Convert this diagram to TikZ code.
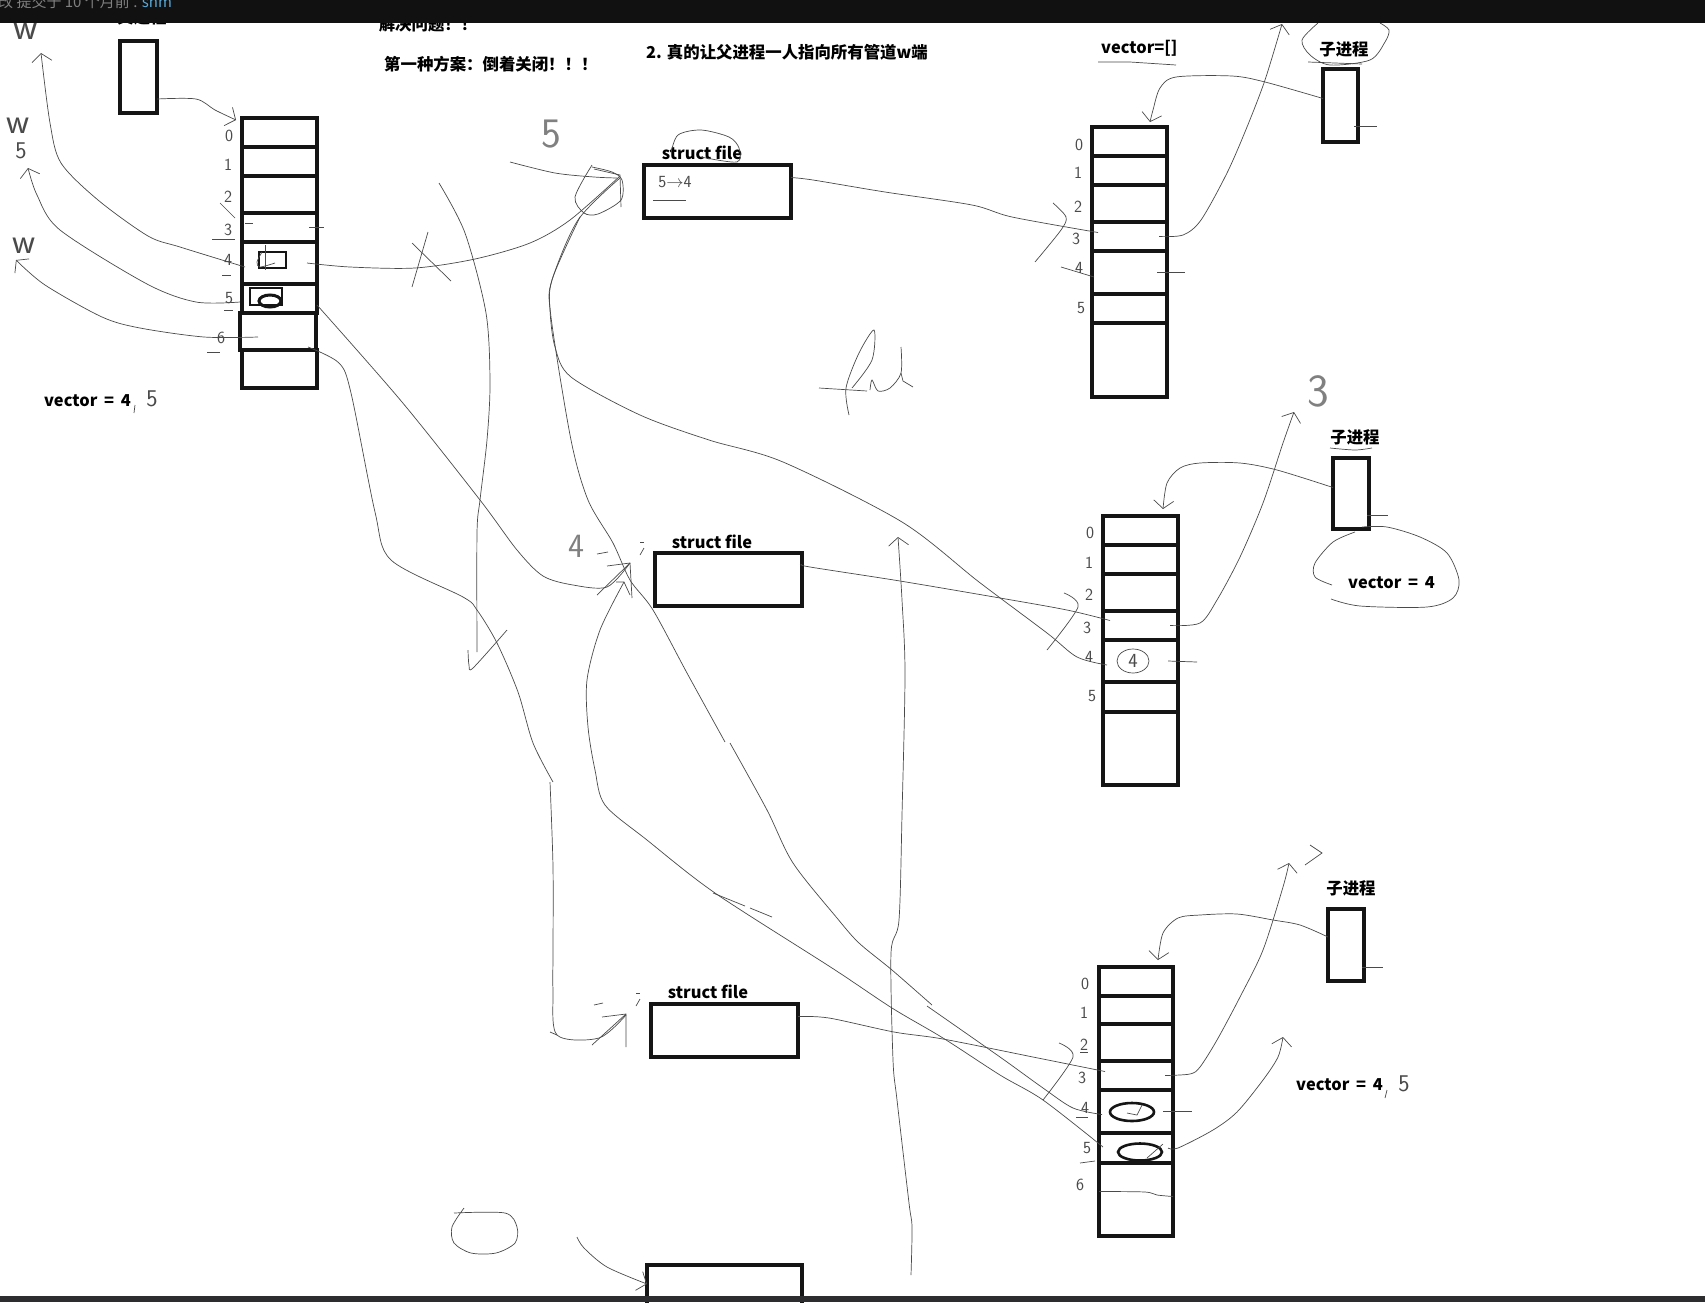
\documentclass[tikz,border=0pt]{standalone}
\usepackage{fontspec}
\setmainfont{Noto Sans CJK SC}
\usetikzlibrary{arrows.meta, shapes.geometric}
\definecolor{inkgray}{HTML}{4A4A4A}
\definecolor{barblack}{HTML}{111111}
\definecolor{bardark}{HTML}{2D2D30}
\definecolor{cellblack}{HTML}{151515}
\definecolor{shmblue}{HTML}{5AA9D6}

\newcommand{\cellbox}[5]{\node[cell, minimum width={(#3-#2)*1pt}, minimum height={(#5-#4)*1pt}] (#1) at ({(#2+#3)/2},{(#4+#5)/2}) {};}

\tikzset{
  cell/.style={rectangle, draw=cellblack, line width=3.2pt, inner sep=0pt, outer sep=0pt},
  marker/.style={draw=cellblack, line width=2.6pt, inner sep=0pt, outer sep=0pt},
  lbl/.style={inner sep=0pt, text=black, font=\bfseries\fontsize{16.4}{18}\selectfont},
  hand/.style={inner sep=0pt, text=inkgray, font=\sffamily\fontsize{#1}{#1}\selectfont},
  ink/.style={draw=inkgray, line width=.7pt, smooth, tension=.5},
  penarrow/.style={-{Straight Barb[length=8pt,width=20pt]}}
}

\begin{document}
\begin{tikzpicture}[x=1pt, y=-1pt]
  \clip (0,0) rectangle (1705,1302);
  \fill[white] (0,0) rectangle (1705,1302);

  % parent side
  \cellbox{parent}{120}{157}{41}{113}
  \foreach \n/\t/\b in {0/118/147, 1/147/176, 2/176/213, 3/213/242, 4/242/284, 5/284/313, 7/350/388}
    {\cellbox{pa\n}{242}{317}{\t}{\b}}
  \cellbox{pa6}{240}{316}{313}{350}
  \node[marker, rectangle, minimum width=27pt, minimum height=16pt] (pamarkA) at (272.5,260) {};
  \node[marker, rectangle, minimum width=32pt, minimum height=17pt] (pamarkB) at (266,296.5) {};
  \node[marker, ellipse, line width=3pt, minimum width=22pt, minimum height=12pt] (pamarkC) at (270,301) {};

  % struct file boxes
  \cellbox{fileA}{644}{791}{165}{218}
  \cellbox{fileB}{655}{802}{553}{606}
  \cellbox{fileC}{651}{798}{1004}{1057}
  \cellbox{fileD}{647}{802}{1265}{1330}

  % child tables
  \cellbox{childA}{1323}{1358}{69}{142}
  \foreach \n/\t/\b in {0/127/156, 1/156/185, 2/185/222, 3/222/251, 4/251/294, 5/294/323, 6/323/397}
    {\cellbox{ca\n}{1092}{1167}{\t}{\b}}
  \cellbox{childB}{1333}{1369}{458}{529}
  \foreach \n/\t/\b in {0/516/545, 1/545/574, 2/574/611, 3/611/640, 4/640/682, 5/682/712, 6/712/785}
    {\cellbox{cb\n}{1103}{1178}{\t}{\b}}
  \cellbox{childC}{1328}{1364}{909}{981}
  \foreach \n/\t/\b in {0/967/996, 1/996/1024, 2/1024/1061, 3/1061/1090, 4/1090/1133, 5/1133/1163, 6/1163/1236}
    {\cellbox{cc\n}{1099}{1173}{\t}{\b}}
  \node[marker, ellipse, minimum width=44pt, minimum height=18pt] (ccmarkA) at (1132,1112) {};
  \node[marker, ellipse, minimum width=44pt, minimum height=17pt] (ccmarkB) at (1140,1152) {};

  % printed labels
  \node[lbl] (headP) at (142,17) {父进程};
  \node[lbl] (headQ) at (428,24) {解决问题！！};
  \node[lbl, anchor=west] (planA) at (384,64) {第一种方案：倒着关闭！！！};
  \node[lbl, anchor=west] (planB) at (646,52) {2. 真的让父进程一人指向所有管道w端};
  \node[lbl, anchor=west] (vecA) at (1101,48) {vector=[]};
  \node[lbl] (nameA) at (1344,49) {子进程};
  \node[lbl] (nameB) at (1355,437) {子进程};
  \node[lbl] (nameC) at (1351,888) {子进程};
  \node[lbl] (sfA) at (702,153) {struct file};
  \node[lbl] (sfB) at (712,542) {struct file};
  \node[lbl] (sfC) at (708,992) {struct file};
  \node[lbl, anchor=west] (vecP) at (44,401) {vector\hspace{3pt} = \hspace{3pt}4};
  \node[lbl, anchor=west] (vecB) at (1348,583) {vector\hspace{3pt} = \hspace{3pt}4};
  \node[lbl, anchor=west] (vecC) at (1296,1085) {vector\hspace{3pt} = \hspace{3pt}4};

  % pen numbers
  \foreach \n/\x/\y in {0/229/136, 1/228/165, 2/228/197, 3/228/230, 4/228/260, 5/229/298, 6/221/338}
    {\node[hand=17] (pn\n) at (\x,\y) {\n};}
  \foreach \n/\x/\y in {0/1079/145, 1/1078/173, 2/1078/207, 3/1076/239, 4/1079/268, 5/1081/308}
    {\node[hand=17] (an\n) at (\x,\y) {\n};}
  \foreach \n/\x/\y in {0/1090/533, 1/1089/563, 2/1089/595, 3/1087/628, 4/1089/657, 5/1092/696}
    {\node[hand=17] (bn\n) at (\x,\y) {\n};}
  \foreach \n/\x/\y in {0/1085/984, 1/1084/1013, 2/1084/1045, 3/1082/1078, 4/1085/1108, 5/1087/1148, 6/1080/1185}
    {\node[hand=17] (cn\n) at (\x,\y) {\n};}
  \node[hand=38] (wA) at (26,31) {w};
  \node[hand=36] (wB) at (18,126) {w};
  \node[hand=36] (wC) at (24,246) {w};
  \node[hand=24] (fiveW) at (21,151) {5};
  \node[hand=24] (fiveP) at (152,399) {5};
  \node[hand=24] (fiveC) at (1404,1084) {5};
  \node[hand=42, text=gray] (bigfive) at (551,134) {5};
  \node[hand=34, text=gray] (bigfour) at (576,546) {4};
  \node[hand=46, text=gray] (bigthree) at (1318,391) {3};
  \node[hand=17] (swap) at (675,182) {5$\rightarrow$4};
  \node[hand=20] (circfour) at (1133,661) {4};

  % parent to its table and up to the w ends
  \draw[ink, penarrow] plot coordinates {([yshift=-22pt]parent.east) (196,99) (215,110) (236,120)};
  \draw[ink, penarrow] plot coordinates {([xshift=3pt,yshift=-4pt]pa4.west) (180,247) (148,236) (98,200) (61,163) (50,123) (41,53)};
  \draw[ink, penarrow] plot coordinates {([xshift=-2pt,yshift=-3.5pt]pa5.west) (196,302) (147,284) (60,230) (37,195) (28,168)};
  \draw[ink, penarrow] plot coordinates {([xshift=18pt,yshift=-5.5pt]pa6.west) (204,337) (140,328) (102,317) (45,285) (16,260)};

  % parent read end to the first file, crossed out
  \draw[ink] plot coordinates {([xshift=-10pt]pa4.east) (350,267) (415,268) (475,259) (530,243) (570,220) (620,176)};
  \draw[ink] (428,232) -- (412,287);
  \draw[ink] (412,243) -- (451,281);
  \draw[ink] plot coordinates {(510,162) (555,173) (594,177) (617,178)};
  \draw[ink] (594,169) -- (620,175) -- (621,207);
  \draw[ink] plot coordinates {(592,165) (575,197) (584,213) (598,214) (621,200) (622,180) (612,172) (592,167)};

  % parent write ends to the other files
  \draw[ink] plot coordinates {([yshift=-6.5pt]pa5.east) (402,402) (480,500) (517,550) (543,576) (573,585) (607,587) (630,563)};
  \draw[ink] (607,566) -- (630,563) -- (632,598);
  \draw[ink] (597,595) -- (630,563);
  \draw[ink] plot coordinates {([xshift=-8pt,yshift=3pt]pa6.south east) (339,363) (351,393) (375,512) (391,560) (463,597) (477,610) (497,643) (518,692) (533,743) (553,782)};
  \draw[ink] plot coordinates {(550,782) (553,867) (553,953) (553,990) (557,1035) (599,1038) (626,1015)};
  \draw[ink] (550,1032) -- (557,1035);
  \draw[ink] (602,1017) -- (626,1014) -- (626,1047);
  \draw[ink] (592,1045) -- (626,1014);

  % long strike with its tick
  \draw[ink] plot coordinates {(439,183) (465,233) (486,313) (490,383) (487,440) (480,500) (477,533) (477,652)};
  \draw[ink] plot coordinates {(468,650) (469,665) (473,668) (507,630)};

  % child ends coming back to the files
  \draw[ink] plot coordinates {(620,178) (578,220) (552,280) (550,310) (555,347) (571,377) (640,415) (709,440) (783,462) (902,522) (979,582) (1047,633) (1077,657) ([xshift=4pt,yshift=-4pt]cb4.west)};
  \draw[ink] plot coordinates {(580,217) (552,280) (551,317) (571,440) (588,500) (613,543) (630,580) (653,610) (687,673) (725,742)};
  \draw[ink] plot coordinates {(730,743) (767,810) (793,863) (837,918) (859,943) (892,970) (932,1005)};
  \draw[ink] plot coordinates {(927,1006) (1000,1057) (1043,1088) (1073,1108) ([xshift=3pt,yshift=-3pt]cc4.west)};
  \draw[ink] plot coordinates {(624,582) (600,630) (587,680) (588,727) (595,770) (605,805) (647,840) (715,893) (832,968) (892,1008) (943,1038) (1000,1075) (1043,1100) ([xshift=4pt,yshift=1pt]cc5.west)};
  \draw[ink] (616,582) -- (624,582) -- (630,595);
  \draw[ink] (713,893) -- (745,906);
  \draw[ink] (750,908) -- (772,917);

  % rising stroke on the right
  \draw[ink, penarrow] plot coordinates {(911,1275) (912,1227) (909,1203) (897,1100) (893,1060) (891,953) (899,920) (902,815) (905,674) (902,600) (898,537)};

  % pen letters in the middle
  \draw[ink] plot coordinates {(849,415) (846,388) (859,353) (874,330) (872,360) (852,388)};
  \draw[ink] (819,388) -- (867,391);
  \draw[ink] plot coordinates {(870,390) (872,380) (878,391) (890,388) (901,373) (901,347)};
  \draw[ink] (901,373) -- (903,381) -- (913,387);

  % files to the tables
  \draw[ink] plot coordinates {([yshift=14pt]fileA.east) (813,180) (885,192) (972,205) (1012,217) ([xshift=6pt,yshift=4pt]ca3.west)};
  \draw[ink] plot coordinates {([yshift=15pt]fileB.east) (810,567) (900,581) (1000,598) (1067,610) ([xshift=7pt,yshift=5pt]cb3.west)};
  \draw[ink] plot coordinates {([yshift=14pt]fileC.east) (829,1018) (894,1032) (943,1039) (1033,1057) ([xshift=6pt,yshift=4pt]cc3.west)};
  \draw[ink] plot coordinates {(1053,203) (1066,217) (1061,230) (1035,262)};
  \draw[ink] plot coordinates {(1064,593) (1078,607) (1047,650)};
  \draw[ink] plot coordinates {(1059,1043) (1073,1057) (1043,1100)};

  % first child
  \draw[ink, penarrow] plot coordinates {([xshift=-8pt]ca3.east) (1183,235) (1201,220) (1227,173) (1247,127) (1265,80) (1282,24)};
  \draw[ink, penarrow] plot coordinates {([yshift=7pt]childA.west) (1265,82) (1232,76) (1176,77) (1160,88) (1153,110) (1150,122)};
  \draw[ink] ([xshift=-4pt,yshift=-21pt]childA.east) -- +(23,0);
  \draw[ink] ([xshift=-10pt]ca4.east) -- +(28,0);
  \draw[ink] (1061,267) -- (1094,277);
  \draw[ink] plot coordinates {(1318,23) (1302,40) (1310,55) (1330,65) (1370,60) (1385,42) (1389,30) (1380,23)};
  \draw[ink] (1308,62) -- (1362,64);
  \draw[ink] (1098,62) -- (1130,62) -- (1176,65);
  \draw[ink] plot coordinates {(671,153) (678,135) (701,130) (729,137) (739,148) (737,162) (701,157)};
  \draw[ink] (653,200) -- (686,200);

  % second child
  \draw[ink, penarrow] plot coordinates {([xshift=-8pt]cb3.east) (1200,623) (1217,600) (1240,557) (1263,503) (1283,443) (1294,412)};
  \draw[ink, penarrow] plot coordinates {([yshift=6pt]childB.west) (1277,470) (1240,463) (1200,463) (1180,468) (1167,483) (1163,509)};
  \draw[ink] ([xshift=-2pt,yshift=-22pt]childB.east) -- +(21,0);
  \draw[ink] ([xshift=-10pt]cb4.east) -- +(29,1);
  \draw[ink] plot coordinates {(1355,532) (1333,542) (1315,563) (1315,577) (1332,585)};
  \draw[ink] plot coordinates {(1331,599) (1360,606) (1427,607) (1453,598) (1459,580) (1447,553) (1420,537) (1387,527) (1362,527)};
  \draw[ink] plot coordinates {(1330,448) (1355,450) (1372,448)};
  \node[draw=inkgray, line width=.7pt, ellipse, inner sep=0pt, minimum width=32pt, minimum height=24pt] (ringfour) at (circfour) {};

  % third child
  \draw[ink, penarrow] plot coordinates {([xshift=-8pt]cc3.east) (1190,1074) (1200,1067) (1217,1040) (1240,997) (1263,950) (1283,887) (1289,863)};
  \draw[ink, penarrow] plot coordinates {([xshift=-5pt]cc5.east) (1178,1148) (1213,1130) (1237,1112) (1263,1080) (1278,1057) (1283,1037)};
  \draw[ink, penarrow] plot coordinates {([yshift=8pt]childC.west) (1300,925) (1273,920) (1237,914) (1200,915) (1178,918) (1163,933) (1158,960)};
  \draw[ink] ([xshift=-2pt,yshift=-22pt]childC.east) -- +(21,0);
  \draw[ink] ([xshift=-10pt]cc4.east) -- +(29,0);
  \draw[ink] (1310,845) -- (1322,853) -- (1305,865);
  \draw[ink] plot coordinates {([yshift=8pt]cc6.west) (1145,1192) (1157,1195) ([yshift=3pt]cc6.east)};
  \draw[ink] (1127,1113) -- (1137,1115) -- (1142,1105);
  \draw[ink] (1147,1158) -- (1163,1144);
  \draw[ink] (1385,1098) -- (1387,1090);

  % small pen ticks
  \draw[ink] (134,413) -- (135,405);
  \draw[ink] (212,239) -- (235,239);
  \draw[ink] (222,275) -- (231,275);
  \draw[ink] (224,310) -- (233,310);
  \draw[ink] (207,352) -- (220,352);
  \draw[ink] (220,203) -- (235,218);
  \draw[ink] (245,223) -- (253,223);
  \draw[ink] (309,227) -- (324,227);
  \draw[ink] (265,245) -- (265,270);
  \draw[ink] plot coordinates {(262,252) (257,262) (260,267) (275,263)};
  \draw[ink] (1080,1052) -- (1088,1052);
  \draw[ink] (1076,1117) -- (1088,1117);
  \draw[ink] (1080,1163) -- (1095,1161);
  \draw[ink] (640,542) -- (644,542);
  \draw[ink] (640,555) -- (644,548);
  \draw[ink] (597,554) -- (608,552);
  \draw[ink] (594,1005) -- (603,1003);
  \draw[ink] (636,993) -- (640,993);
  \draw[ink] (636,1006) -- (640,999);

  % bottom corner
  \draw[ink] plot coordinates {(454,1213) (505,1213) (517,1227) (515,1243) (496,1253) (471,1253) (454,1243) (452,1227) (464,1208)};
  \draw[ink, penarrow] plot coordinates {(577,1237) (584,1248) (607,1267) (fileD.north west |- 0,1284)};

  % window bars
  \fill[barblack] (0,0) rectangle (1705,23);
  \fill[bardark] (0,1296) rectangle (1705,1302);
  \node[anchor=west, inner sep=0pt, text=gray, font=\fontsize{15}{15}\selectfont] (commit) at (-2,2) {改 提交于 10 个月前 . \textcolor{shmblue}{shm}};
\end{tikzpicture}
\end{document}
